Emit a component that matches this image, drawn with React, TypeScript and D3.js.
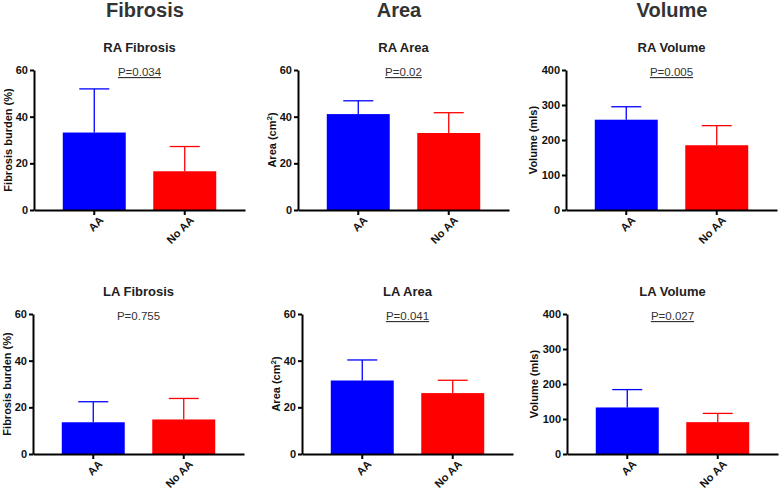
import React, { useEffect, useRef } from 'react';
import * as d3 from 'd3';

// groups on the x axis
const categories = ['AA', 'No AA'];
const barColors = ['#0000ff', '#ff0000'];

// column headers
const headers = ['Fibrosis', 'Area', 'Volume'];

// panel titles, p values (underlined when significant)
const panelTitles = ['RA Fibrosis', 'RA Area', 'RA Volume', 'LA Fibrosis', 'LA Area', 'LA Volume'];
const pValues = ['P=0.034', 'P=0.02', 'P=0.005', 'P=0.755', 'P=0.041', 'P=0.027'];
const pUnderlined = [true, true, true, false, true, true];

// y axis titles and maxima per column
const yTitles = ['Fibrosis burden (%)', 'Area (cm|2|)', 'Volume (mls)'];
const yMax = [60, 60, 400];
const yTicks = [[0, 20, 40, 60], [0, 20, 40, 60], [0, 100, 200, 300, 400]];

// means and SD (upward error bars), AA / No AA
const raFibrosis = [33.2, 16.6];
const raFibrosisSd = [18.7, 10.6];
const raArea = [41.1, 33.0];
const raAreaSd = [5.7, 8.7];
const raVolume = [258, 185];
const raVolumeSd = [37, 56];
const laFibrosis = [13.6, 14.8];
const laFibrosisSd = [8.8, 9.0];
const laArea = [31.5, 26.1];
const laAreaSd = [8.8, 5.5];
const laVolume = [133, 91];
const laVolumeSd = [51, 25];

const means = [raFibrosis, raArea, raVolume, laFibrosis, laArea, laVolume];
const sds = [raFibrosisSd, raAreaSd, raVolumeSd, laFibrosisSd, laAreaSd, laVolumeSd];

const W = 780;
const H = 492;
const FONT = "'Liberation Sans', Arial, Helvetica, sans-serif";

// layout
const colX = [[34, 298, 566], [33, 302, 567]]; // y axis x per row/col
const rowTop = [70, 314];
const plotH = 140;
const plotW = 211;
const headerX = [145, 399, 672];

export default function App() {
  const ref = useRef<SVGSVGElement>(null);

  useEffect(() => {
    const svg = d3.select(ref.current);
    svg.selectAll('*').remove();
    svg.append('rect').attr('width', W).attr('height', H).attr('fill', '#fff');

    // column headers
    svg.selectAll('.header')
      .data(headers)
      .enter().append('text')
      .attr('x', (d, i) => headerX[i])
      .attr('y', 17)
      .attr('text-anchor', 'middle')
      .style('font-family', FONT)
      .style('font-size', '20px')
      .style('font-weight', 'bold')
      .attr('fill', '#333')
      .text(d => d);

    panelTitles.forEach((title, p) => {
      const row = Math.floor(p / 3);
      const col = p % 3;
      const x0 = colX[row][col];
      const y0 = rowTop[row];

      const g = svg.append('g').attr('transform', `translate(${x0},${y0})`);

      const x = d3.scaleBand()
        .domain(categories)
        .range([0, plotW])
        .paddingInner(0.304)
        .paddingOuter(0.318);
      const y = d3.scaleLinear().domain([0, yMax[col]]).range([plotH, 0]);

      // title + p value
      g.append('text')
        .attr('x', plotW / 2)
        .attr('y', -18)
        .attr('text-anchor', 'middle')
        .style('font-family', FONT)
        .style('font-size', '13px')
        .style('font-weight', 'bold')
        .attr('fill', '#222')
        .text(title);
      g.append('text')
        .attr('x', plotW / 2)
        .attr('y', 6)
        .attr('text-anchor', 'middle')
        .style('font-family', FONT)
        .style('font-size', '11.5px')
        .style('text-decoration', pUnderlined[p] ? 'underline' : 'none')
        .attr('fill', '#333')
        .text(pValues[p]);

      const data = categories.map((c, i) => ({ c, v: means[p][i], sd: sds[p][i], i }));

      // bars
      g.selectAll('.bar')
        .data(data)
        .enter().append('rect')
        .attr('x', d => x(d.c)!)
        .attr('width', x.bandwidth())
        .attr('y', d => y(d.v))
        .attr('height', d => plotH - y(d.v))
        .attr('fill', d => barColors[d.i]);

      // error bars (upward)
      const cap = 30;
      g.selectAll('.err')
        .data(data)
        .enter().append('line')
        .attr('x1', d => x(d.c)! + x.bandwidth() / 2)
        .attr('x2', d => x(d.c)! + x.bandwidth() / 2)
        .attr('y1', d => y(d.v))
        .attr('y2', d => y(d.v + d.sd))
        .attr('stroke', d => barColors[d.i])
        .attr('stroke-width', 1.3);
      g.selectAll('.cap')
        .data(data)
        .enter().append('line')
        .attr('x1', d => x(d.c)! + x.bandwidth() / 2 - cap / 2)
        .attr('x2', d => x(d.c)! + x.bandwidth() / 2 + cap / 2)
        .attr('y1', d => y(d.v + d.sd))
        .attr('y2', d => y(d.v + d.sd))
        .attr('stroke', d => barColors[d.i])
        .attr('stroke-width', 1.3);

      // y axis
      const yAxis = g.append('g')
        .call(d3.axisLeft(y).tickValues(yTicks[col]).tickSize(4).tickPadding(2).tickSizeOuter(0));
      yAxis.select('.domain').attr('stroke', '#000').attr('stroke-width', 2);
      yAxis.selectAll('.tick line').attr('stroke', '#000').attr('stroke-width', 2);
      yAxis.selectAll('.tick text')
        .style('font-family', FONT)
        .style('font-size', '11px')
        .style('font-weight', 'bold')
        .attr('fill', '#111');

      // x axis
      const xAxis = g.append('g')
        .attr('transform', `translate(0,${plotH})`)
        .call(d3.axisBottom(x).tickSize(5).tickSizeOuter(0));
      xAxis.select('.domain').attr('stroke', '#000').attr('stroke-width', 2);
      xAxis.selectAll('.tick line').attr('stroke', '#000').attr('stroke-width', 2);
      xAxis.selectAll('.tick text')
        .style('font-family', FONT)
        .style('font-size', '11px')
        .style('font-weight', 'bold')
        .attr('fill', '#111')
        .attr('text-anchor', 'end')
        .attr('dy', '0.35em')
        .attr('transform', 'translate(3,4) rotate(-45)')
        .attr('y', 6)
        .attr('x', 0);

      // y axis title
      const maxChars = d3.max(yTicks[col], t => String(t).length)!;
      const offset = maxChars * 7 + 12;
      const parts = yTitles[col].split('|');
      const yt = g.append('text')
        .attr('transform', `translate(${-offset},${plotH / 2}) rotate(-90)`)
        .attr('text-anchor', 'middle')
        .attr('dy', '0.35em')
        .style('font-family', FONT)
        .style('font-size', '11px')
        .style('font-weight', 'bold')
        .attr('fill', '#111');
      yt.append('tspan').text(parts[0]);
      if (parts.length > 1) {
        yt.append('tspan')
          .attr('baseline-shift', 'super')
          .style('font-size', '8px')
          .text(parts[1]);
        yt.append('tspan').text(parts[2]);
      }
    });
  }, []);

  return (
    <svg
      ref={ref}
      width={W}
      height={H}
      style={{ position: 'absolute', left: 0, top: 0 }}
    />
  );
}
